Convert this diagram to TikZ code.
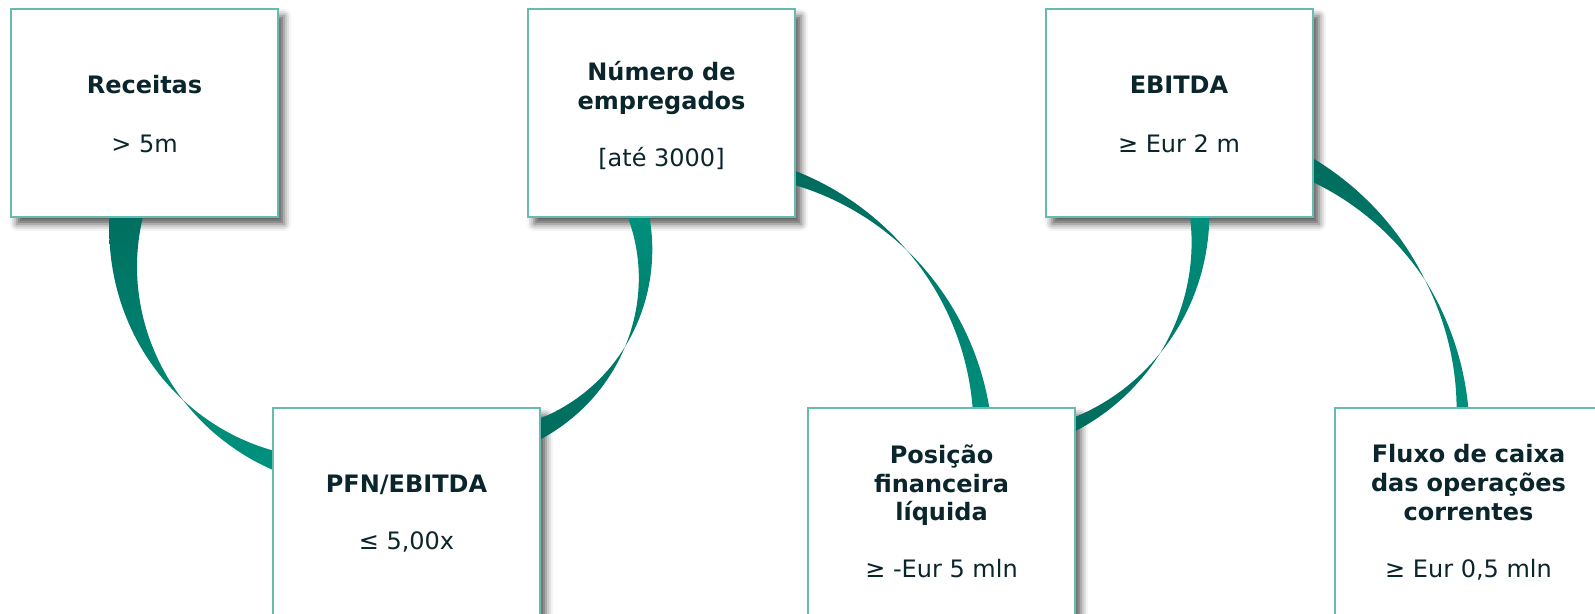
\documentclass[tikz,border=0pt]{standalone}
\usepackage{fontspec}
\setmainfont{DejaVu Sans}
\usetikzlibrary{shadows.blur}
\definecolor{txt}{RGB}{10,38,44}
\definecolor{edgeteal}{RGB}{102,187,174}
\definecolor{tealdark}{RGB}{0,106,92}
\definecolor{teallight}{RGB}{0,148,128}
% ribbon: cx, cy, r, t_start, t_cross, t_end, w_start, w_end, shading style
\newcommand{\ribbon}[9]{%
  \shade[#9]
    plot[domain=#4:#5, samples=40] ({#1+(#3+0.5*#7*(\x-(#5))/((#4)-(#5)))*cos(\x)}, {#2+(#3+0.5*#7*(\x-(#5))/((#4)-(#5)))*sin(\x)})
    -- plot[domain=#5:#4, samples=40] ({#1+(#3-0.5*#7*(\x-(#5))/((#4)-(#5)))*cos(\x)}, {#2+(#3-0.5*#7*(\x-(#5))/((#4)-(#5)))*sin(\x)})
    -- cycle
    plot[domain=#5:#6, samples=40] ({#1+(#3+0.5*#8*(\x-(#5))/((#6)-(#5)))*cos(\x)}, {#2+(#3+0.5*#8*(\x-(#5))/((#6)-(#5)))*sin(\x)})
    -- plot[domain=#6:#5, samples=40] ({#1+(#3-0.5*#8*(\x-(#5))/((#6)-(#5)))*cos(\x)}, {#2+(#3-0.5*#8*(\x-(#5))/((#6)-(#5)))*sin(\x)})
    -- cycle;
}
\begin{document}
\begin{tikzpicture}[x=0.5pt,y=-0.5pt,
  box/.style={draw=edgeteal, line width=0.7pt, fill=white, rectangle, anchor=north west,
    minimum width=133.5pt, minimum height=104pt, inner sep=0pt, outer sep=0pt},
  shadowed/.style={blur shadow={shadow xshift=3pt, shadow yshift=-3.5pt, shadow blur radius=3.5pt, shadow opacity=65}},
  boxface/.style={draw=edgeteal, line width=0.7pt, fill=white},
  darktop/.style={top color=tealdark, bottom color=teallight},
  lighttop/.style={top color=teallight, bottom color=tealdark},
  title/.style={font=\bfseries\fontsize{12}{14.4}\selectfont, text=txt, text width=130pt, align=center, anchor=base, inner sep=0pt},
  value/.style={font=\fontsize{12}{14.4}\selectfont, text=txt, anchor=base, inner sep=0pt}]
\useasboundingbox (0,0) rectangle (1595,614);
\clip (0,0) rectangle (1595,614);
% boxes with shadows
\node[box, shadowed] (b1) at (11,9) {};
\node[box, shadowed] (b2) at (528,9) {};
\node[box, shadowed] (b3) at (1046,9) {};
\node[box, shadowed] (b4) at (273,408) {};
\node[box, shadowed] (b5) at (808,408) {};
\node[box, shadowed] (b6) at (1335,408) {};
% ribbons
\ribbon{349.5}{247.8}{225.6}{195}{137.6}{100}{37.7}{24.8}{darktop}
\ribbon{463.2}{263.9}{181.8}{-22}{27.1}{72}{24.5}{22.7}{lighttop}
\ribbon{704}{441.8}{279}{-75}{-43.4}{0}{15.5}{19.8}{darktop}
\ribbon{984}{228.1}{216}{-8}{35.4}{72}{21.8}{16}{lighttop}
\ribbon{1176.4}{422.3}{286.4}{-66}{-29.8}{3}{23.8}{14.2}{darktop}
% box faces above ribbons
\foreach \b in {b1,b2,b3,b4,b5,b6}
  \filldraw[boxface] (\b.south west) rectangle (\b.north east);
% texts
\node[title] (t1) at (144.5,93.3) {Receitas};
\node[value] (v1) at (144.5,152.7) {> 5m};
\node[title] (t2) at (661.5,81) {Número de\\empregados};
\node[value] (v2) at (661.5,166.7) {[até 3000]};
\node[title] (t3) at (1179,93.3) {EBITDA};
\node[value] (v3) at (1179,152.6) {≥ Eur 2 m};
\node[title] (t4) at (406.5,492.7) {PFN/EBITDA};
\node[value] (v4) at (406.5,549) {≤ 5,00x};
\node[title] (t5) at (941.5,463.3) {Posição\\financeira\\líquida};
\node[value] (v5) at (941.5,577.3) {≥ -Eur 5 mln};
\node[title] (t6) at (1468.5,462.7) {Fluxo de caixa\\das operações\\correntes};
\node[value] (v6) at (1468.5,577.3) {≥ Eur 0,5 mln};
\end{tikzpicture}
\end{document}
